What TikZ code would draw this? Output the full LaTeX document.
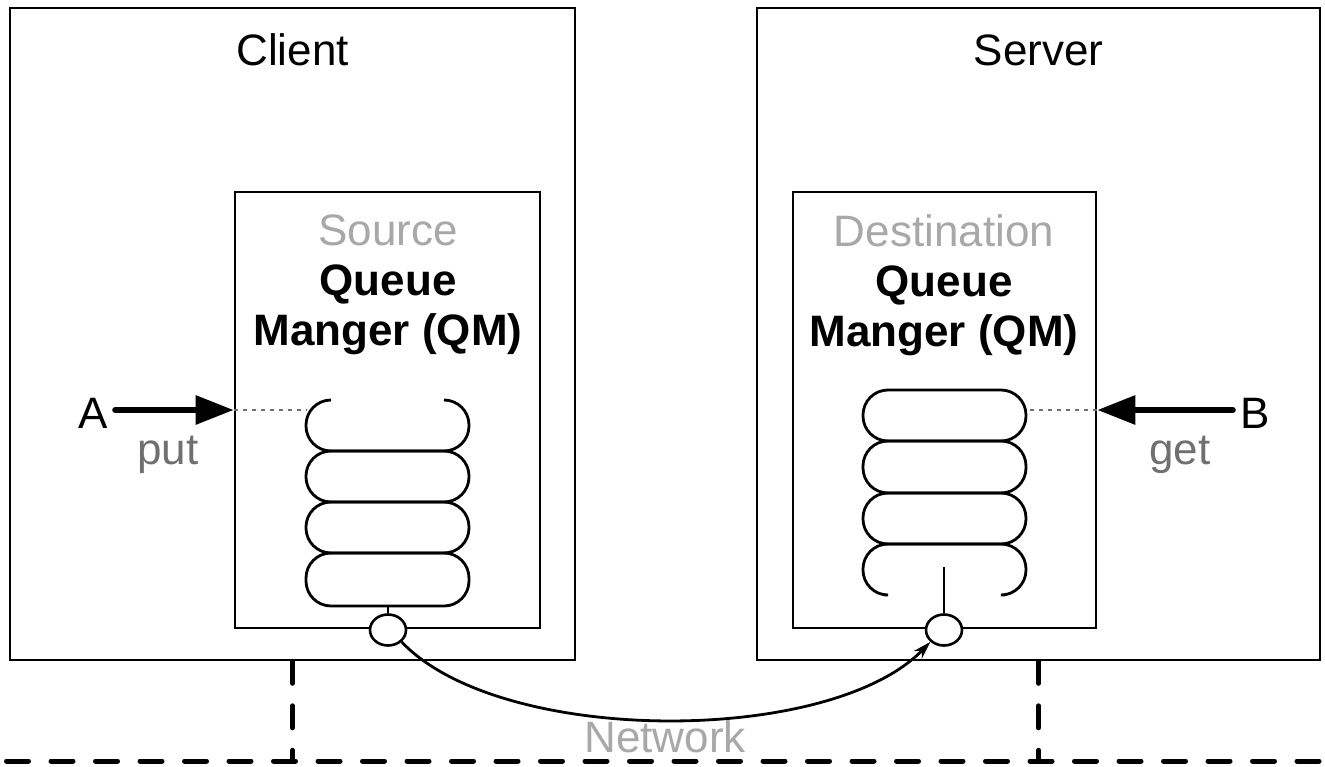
\documentclass[tikz,border=0pt]{standalone}
\usepackage{fontspec}
\setmainfont{Liberation Sans}
\usetikzlibrary{arrows.meta,shapes.geometric}
\definecolor{softgray}{HTML}{A8A8A8}
\definecolor{midgray}{HTML}{707070}
\tikzset{
  box/.style={draw, line width=2.6pt, inner sep=0pt},
  port/.style={draw, ellipse, line width=2.6pt, fill=white, minimum width=36pt, minimum height=31pt, inner sep=0pt},
  cell/.style={line width=2.8pt, rounded corners=25pt},
  net/.style={line width=5pt, line cap=round, dash pattern=on 22pt off 22.5pt},
  dotline/.style={line width=2.2pt, midgray, dash pattern=on 4pt off 5pt},
  bigarrow/.style={line width=6pt, line cap=round, -{Triangle[length=38pt,width=28pt]}},
  lbl/.style={font=\fontsize{44}{50}\selectfont},
}
\begin{document}
\begin{tikzpicture}[x=1pt, y=-1pt]
\useasboundingbox (0,0) rectangle (1325,767);
\node[box, minimum width=565pt, minimum height=652pt] (client) at (292.5,334) {};
\node[box, minimum width=563pt, minimum height=652pt] (server) at (1038.5,334) {};
\node[box, minimum width=305pt, minimum height=436pt] (srcqm) at (387.5,410) {};
\node[box, minimum width=303pt, minimum height=436pt] (dstqm) at (944.5,410) {};
\node[lbl] (clientlbl) at (292.5,50) {Client};
\node[lbl] (serverlbl) at (1038.5,50) {Server};
\node[lbl, align=center] (srctxt) at (388,285) {\textcolor{softgray}{Source}\\\textbf{Queue}\\\textbf{Manger (QM)}};
\node[lbl, align=center] (dsttxt) at (944,285) {\textcolor{softgray}{Destination}\\\textbf{Queue}\\\textbf{Manger (QM)}};
\draw[cell] (331,400) -- (306,400) -- (306,451) -- (469,451) -- (469,400) -- (444,400);
\foreach \a/\b in {451/502, 502/553, 553/606}
  \draw[cell] (306,\a) rectangle (469,\b);
\foreach \a/\b in {390/441, 441/493, 493/544}
  \draw[cell] (863,\a) rectangle (1026,\b);
\draw[cell] (884,595) -- (863,595) -- (863,544) -- (1026,544) -- (1026,595) -- (1005,595);
\coordinate (srcqout) at (388,606);
\coordinate (dstqin) at (944,567);
\coordinate (srcqtop) at (306,410);
\coordinate (dstqtop) at (1026,410);
\node[port] (srcport) at (388,630) {};
\node[port] (dstport) at (944,630) {};
\draw[line width=2.6pt] (srcqout) -- (srcport.north);
\draw[line width=2.6pt] (dstqin) -- (dstport.north);
\draw[line width=2.8pt, -{Stealth[length=18pt,width=11pt]}] (srcport.south east) .. controls (500,746) and (830,746) .. (dstport.south west);
\node[lbl] (a) at (93,413) {A};
\node[lbl] (b) at (1255,413) {B};
\node[lbl, text=midgray] (put) at (168,455) {put};
\node[lbl, text=midgray] (get) at (1180,455) {get};
\draw[bigarrow] ([xshift=4pt]a.east |- srcqm.west) -- (srcqm.west);
\draw[bigarrow] ([xshift=-4pt]b.west |- dstqm.east) -- (dstqm.east);
\draw[dotline] (srcqm.west) -- (srcqtop);
\draw[dotline] (dstqm.east) -- (dstqtop);
\node[lbl, text=softgray] (net) at (665,737) {Network};
\coordinate (lanl) at (-38,761);
\coordinate (lanr) at (1330,761);
\draw[net] (lanl) -- (lanr);
\draw[net] (client.south) -- (client.south |- lanl);
\draw[net] (server.south) -- (server.south |- lanl);
\end{tikzpicture}
\end{document}
